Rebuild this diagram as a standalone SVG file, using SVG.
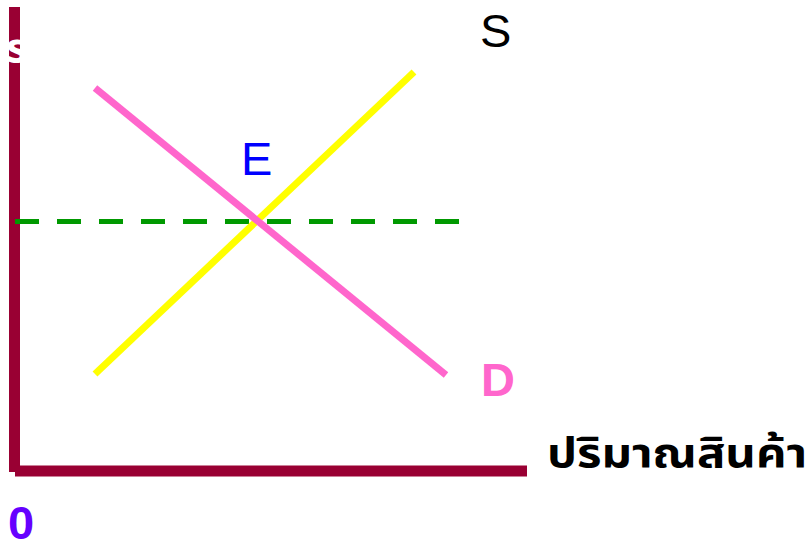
<svg xmlns="http://www.w3.org/2000/svg" width="810" height="545" viewBox="0 0 810 545">
<style>
.axis{stroke:#990033;stroke-width:11;fill:none}
.lbl{font-family:"Liberation Sans",Arial,sans-serif;font-size:47px}
.th{font-family:"Noto Sans","Noto Sans Thai","DejaVu Sans",sans-serif;font-size:41px;font-weight:bold}
</style>
<rect width="810" height="545" fill="#fff"/>
<g id="axes">
<line class="axis" x1="14.5" y1="7" x2="14.5" y2="472"/>
<line class="axis" x1="15" y1="471" x2="527" y2="471"/>
</g>
<g id="connectors">
<line id="price-line" x1="15" y1="221.5" x2="460" y2="221.5" stroke="#009900" stroke-width="5" stroke-dasharray="24 18"/>
<line id="supply" x1="95" y1="374" x2="414" y2="72" stroke="#FFFF00" stroke-width="7"/>
<line id="demand" x1="95" y1="88" x2="446" y2="375" stroke="#FF66CC" stroke-width="7"/>
</g>
<g id="labels">
<text class="th" x="6" y="62" fill="#fff">ราคา</text>
<text class="lbl" x="480" y="47" fill="#000">S</text>
<text class="lbl" x="241" y="175" fill="#0000FF">E</text>
<text class="lbl" x="481" y="396" fill="#FF66CC" font-weight="bold">D</text>
<text class="lbl" x="8" y="539" fill="#6600FF" font-weight="bold">0</text>
<text class="th" x="547" y="467" fill="#000" textLength="260" lengthAdjust="spacingAndGlyphs">ปริมาณสินค้า</text>
</g>
</svg>
